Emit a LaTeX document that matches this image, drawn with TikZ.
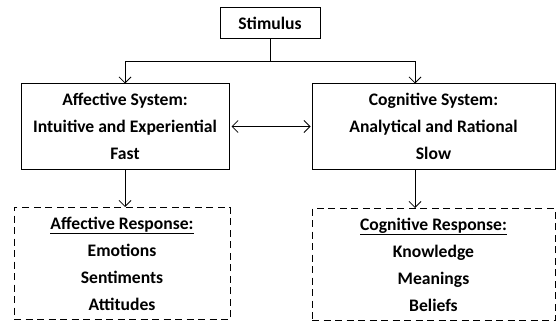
\documentclass[tikz,border=0pt]{standalone}
\usepackage{fontspec}
\setmainfont{Carlito}
\usepackage{tikz}
\usetikzlibrary{arrows,arrows.meta}
\tikzset{
  sysbox/.style={draw,line width=1pt,align=center,inner sep=0pt,font=\bfseries\fontsize{17.6}{27}\selectfont},
  respbox/.style={sysbox,dashed,dash pattern=on 7pt off 4.5pt},
  link/.style={line width=0.8pt,-{Straight Barb[length=6pt,width=12pt]}}
}
\begin{document}
\begin{tikzpicture}[x=1pt,y=-1pt]
			\useasboundingbox (0,0) rectangle (557,321);
			\node[sysbox,minimum width=100,minimum height=31] (stim) at (270,23.5) {Stimulus};
			\node[sysbox,minimum width=208,minimum height=85] (aff) at (125,126.5) {Affective System:\\Intuitive and Experiential\\Fast};
			\node[sysbox,minimum width=243,minimum height=85] (cog) at (433.5,126.5) {Cognitive System:\\Analytical and Rational\\Slow};
			\node[respbox,minimum width=216,minimum height=112] (affr) at (122,263.5) {\underline{Affective Response:}\\Emotions\\Sentiments\\Attitudes};
			\node[respbox,minimum width=243,minimum height=112] (cogr) at (433.5,264.5) {\underline{Cognitive Response:}\\Knowledge\\Meanings\\Beliefs};
			\coordinate (split) at (270,61);
			\draw[line width=0.8pt] (stim) -- (split);
			\draw[link] (split) -| (aff.north);
			\draw[link] (split) -| ([xshift=-18.5]cog.north);
			\draw[link,{Straight Barb[length=6pt,width=12pt]}-{Straight Barb[length=6pt,width=12pt]},shorten <=2pt,shorten >=1pt] (aff) -- (cog);
			\draw[link] (aff) -- (aff.south |- affr.north);
			\draw[link] ([xshift=-18.5]cog.south) -- ([xshift=-18.5]cog.south |- cogr.north);
		\end{tikzpicture}
\end{document}
